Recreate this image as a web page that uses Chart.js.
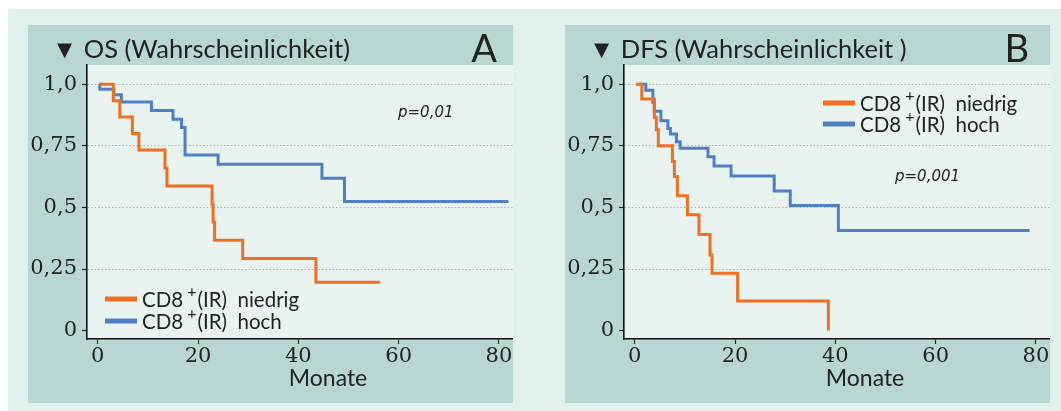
<!DOCTYPE html>
<html>
<head>
<meta charset="utf-8">
<script src="https://cdn.jsdelivr.net/npm/chart.js@4.4.1/dist/chart.umd.min.js"></script>
<style>
  body { margin: 0; background: #fff; width: 1061px; height: 411px; position: relative; overflow: hidden; }
  #bg { position: absolute; left: 8px; top: 9px; width: 1053px; height: 402px; background: #e2f0eb; }
  .panel { position: absolute; top: 25px; width: 485px; height: 378px; }
</style>
</head>
<body>
<div id="bg"></div>
<div class="panel" style="left:28px"><canvas id="chartA" width="485" height="378"></canvas></div>
<div class="panel" style="left:565px"><canvas id="chartB" width="485" height="378"></canvas></div>
<script>
// ticks
const xTicks = [0, 20, 40, 60, 80];
const yTicks = [0, 0.25, 0.5, 0.75, 1.0];
const yTickLabels = ["0", "0,25", "0,5", "0,75", "1,0"];

// A: OS, Kaplan-Meier (Monate, Wahrscheinlichkeit)
const osNiedrigMonths = [0.3, 3.1, 4.4, 6.9, 8.2, 13.4, 13.8, 22.8, 23.0, 23.3, 28.9, 43.5, 56.3];
const osNiedrigSurv   = [1.0, 0.933, 0.867, 0.80, 0.733, 0.66, 0.587, 0.513, 0.44, 0.367, 0.293, 0.196, 0.196];
const osHochMonths = [0.3, 0.4, 3.2, 4.7, 10.7, 15.0, 16.7, 17.4, 24.0, 44.7, 49.2, 81.9];
const osHochSurv   = [1.0, 0.98, 0.957, 0.928, 0.893, 0.858, 0.824, 0.713, 0.675, 0.618, 0.524, 0.524];

// B: DFS
const dfsNiedrigMonths = [0.3, 1.4, 3.9, 4.3, 4.7, 7.5, 7.9, 8.5, 10.5, 12.8, 15.0, 15.4, 20.5, 38.6];
const dfsNiedrigSurv   = [1.0, 0.94, 0.866, 0.815, 0.75, 0.686, 0.625, 0.547, 0.47, 0.39, 0.307, 0.233, 0.12, 0.0];
const dfsHochMonths = [0.3, 2.2, 3.6, 3.9, 5.2, 6.6, 7.1, 8.3, 9.05, 14.6, 15.8, 19.2, 27.8, 31.0, 40.6, 78.7];
const dfsHochSurv   = [1.0, 0.976, 0.927, 0.89, 0.852, 0.82, 0.798, 0.767, 0.74, 0.706, 0.668, 0.628, 0.567, 0.508, 0.406, 0.406];

const ORANGE = "#f26f21";
const BLUE = "#4f80c6";
const TEAL = "#b8d7d2";
const PLOT_BG = "#e9f3f0";
const INK = "#222";
const TICK_FONT = { family: "'DejaVu Serif', serif", size: 21 };

function pts(xs, ys) { return xs.map((x, i) => ({ x: x, y: ys[i] })); }

function drawLabel(ctx, x, y, rest) {
  ctx.font = "20.5px Lato";
  ctx.fillText("CD8", x, y);
  let w = ctx.measureText("CD8").width + 4;
  ctx.font = "16px Lato";
  ctx.fillText("+", x + w, y - 8);
  w += ctx.measureText("+").width + 1;
  ctx.font = "20.5px Lato";
  ctx.fillText("(IR)  " + rest, x + w, y);
}

function decorPlugin(cfg) {
  return {
    id: "decor",
    beforeDraw(chart) {
      const c = chart.ctx, a = chart.chartArea;
      c.save();
      c.fillStyle = TEAL;
      c.fillRect(0, 0, chart.width, chart.height);
      c.fillStyle = PLOT_BG;
      c.fillRect(a.left, a.top, chart.width - a.left, a.bottom - a.top);
      c.fillStyle = INK;
      c.textBaseline = "alphabetic";
      c.font = "25.5px Lato";
      c.fillText(cfg.title, 24, 33);
      c.font = "38px Lato";
      c.textAlign = "right";
      c.fillText(cfg.letter, cfg.letterX, 37);
      c.restore();
    },
    afterDraw(chart) {
      const c = chart.ctx;
      c.save();
      // legend
      const L = cfg.legend;
      c.lineWidth = 5;
      c.strokeStyle = ORANGE;
      c.beginPath(); c.moveTo(L.x, L.y1); c.lineTo(L.x + 32, L.y1); c.stroke();
      c.strokeStyle = BLUE;
      c.beginPath(); c.moveTo(L.x, L.y2); c.lineTo(L.x + 32, L.y2); c.stroke();
      c.fillStyle = INK;
      c.textBaseline = "middle";
      drawLabel(c, L.x + 37, L.y1 + 1, "niedrig");
      drawLabel(c, L.x + 37, L.y2 + 1, "hoch");
      // p-value
      c.font = "italic 15px 'DejaVu Sans'";
      c.fillText(cfg.p.text, cfg.p.x, cfg.p.y);
      // axis title
      c.font = "23px Lato";
      c.textAlign = "center";
      c.fillText("Monate", 300, 354);
      c.restore();
    }
  };
}

function makeChart(id, cfg) {
  new Chart(document.getElementById(id), {
    type: "line",
    data: {
      datasets: [
        { data: pts(cfg.niedrigX, cfg.niedrigY), borderColor: ORANGE },
        { data: pts(cfg.hochX, cfg.hochY), borderColor: BLUE }
      ]
    },
    options: {
      responsive: false,
      animation: false,
      devicePixelRatio: 1,
      layout: { padding: { top: 40, left: 0, right: 0, bottom: 0 } },
      elements: {
        line: { stepped: true, borderWidth: 3, tension: 0, fill: false, borderCapStyle: "butt" },
        point: { radius: 0, hoverRadius: 0 }
      },
      plugins: { legend: { display: false }, tooltip: { enabled: false }, title: { display: false } },
      scales: {
        x: {
          type: "linear",
          min: -2.15,
          max: 82.8,
          afterBuildTicks: s => { s.ticks = xTicks.map(v => ({ value: v })); },
          afterFit: s => { s.height = 64; },
          grid: { drawOnChartArea: false, tickLength: 5, tickColor: INK, tickWidth: 1.2 },
          border: { color: "#111", width: 1.6 },
          ticks: { color: INK, font: TICK_FONT, padding: 0, maxRotation: 0, autoSkip: false }
        },
        y: {
          min: -0.034,
          max: 1.078,
          afterBuildTicks: s => { s.ticks = yTicks.map(v => ({ value: v })); },
          afterFit: s => { s.width = 59; },
          grid: {
            color: ctx => (ctx.tick && ctx.tick.value > 0 ? "#a7b2ae" : "rgba(0,0,0,0)"),
            lineWidth: 1,
            tickColor: INK,
            tickLength: 5,
            tickWidth: 1.2,
            tickBorderDash: []
          },
          border: { color: "#111", width: 1.6, dash: [1.5, 2] },
          ticks: {
            color: INK,
            font: TICK_FONT,
            padding: 5,
            callback: (v, i) => yTickLabels[i]
          }
        }
      }
    },
    plugins: [decorPlugin(cfg)]
  });
}

makeChart("chartA", {
  niedrigX: osNiedrigMonths, niedrigY: osNiedrigSurv,
  hochX: osHochMonths, hochY: osHochSurv,
  title: "\u25BC OS (Wahrscheinlichkeit)", letter: "A", letterX: 469,
  legend: { x: 77, y1: 274, y2: 296 },
  p: { text: "p=0,01", x: 370, y: 88 }
});

makeChart("chartB", {
  niedrigX: dfsNiedrigMonths, niedrigY: dfsNiedrigSurv,
  hochX: dfsHochMonths, hochY: dfsHochSurv,
  title: "\u25BC DFS (Wahrscheinlichkeit )", letter: "B", letterX: 464,
  legend: { x: 258, y1: 78, y2: 99 },
  p: { text: "p=0,001", x: 330, y: 152 }
});
</script>
</body>
</html>
